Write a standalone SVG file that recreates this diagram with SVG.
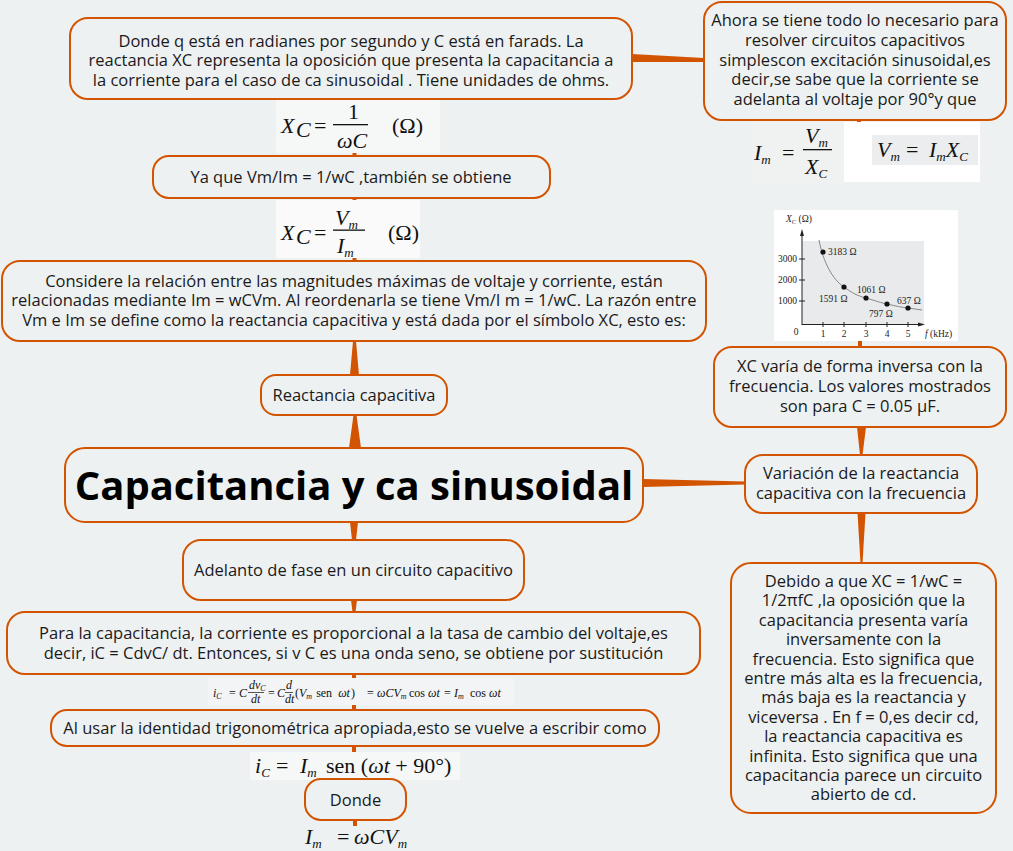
<svg xmlns="http://www.w3.org/2000/svg" width="1013" height="851" viewBox="0 0 1013 851">
<defs>
<style>
.node{fill:#eef1f2;stroke:#d35400;stroke-width:2}
.t{font-family:"Open Sans","Liberation Sans",sans-serif;font-size:16.5px;fill:#1a1a1a;text-anchor:middle}
.title{font-family:"Open Sans","Liberation Sans",sans-serif;font-size:40px;font-weight:bold;fill:#000;text-anchor:middle}
.conn{fill:#d35400}
.m{font-family:"Liberation Serif","Times New Roman",serif;font-size:22px;fill:#111}
.mi{font-style:italic}
.ms{font-family:"Liberation Serif",serif;font-size:12px;fill:#111}
.g{font-family:"Liberation Serif",serif;font-size:9.5px;fill:#222}
</style>
</defs>
<rect width="1013" height="851" fill="#eef1f2"/>

<g id="connectors">
<polygon class="conn" points="349,448 361,448 356.5,415 353.5,415"/>
<polygon class="conn" points="350,375 359,375 356,341 353,341"/>
<rect class="conn" x="352.5" y="257" width="4" height="5"/>
<rect class="conn" x="352.5" y="197" width="4" height="4"/>
<rect class="conn" x="352.5" y="152" width="4" height="5"/>
<rect class="conn" x="352.5" y="98" width="4" height="3"/>
<polygon class="conn" points="632,54 632,62 704,62 704,58"/>
<rect class="conn" x="857" y="119" width="4" height="4"/>
<polygon class="conn" points="350,522 358,522 356,540 352,540"/>
<polygon class="conn" points="351,600 357,600 355.5,612 352.5,612"/>
<rect class="conn" x="352" y="673" width="4" height="6"/>
<rect class="conn" x="352" y="703" width="4" height="8"/>
<rect class="conn" x="352" y="745" width="4" height="8"/>
<rect class="conn" x="353" y="779" width="4" height="2"/>
<rect class="conn" x="353" y="819" width="4" height="7"/>
<polygon class="conn" points="643,479 745,481.5 745,484.5 643,487"/>
<polygon class="conn" points="857,427 866,427 862.5,455 860,455"/>
<polygon class="conn" points="857.5,513 865.5,513 862.5,563 860.5,563"/>
<rect class="conn" x="858" y="340" width="4" height="8"/>
</g>

<g id="n-donde-q">
<rect class="node" x="70" y="18" width="562" height="81" rx="18"/>
<text class="t" x="351" y="47">Donde q está en radianes por segundo y C está en farads. La</text>
<text class="t" x="351" y="66">reactancia XC representa la oposición que presenta la capacitancia a</text>
<text class="t" x="351" y="86">la corriente para el caso de ca sinusoidal . Tiene unidades de ohms.</text>
</g>

<g id="f-xc1">
<rect x="276" y="100" width="164" height="53" fill="#f6f7f7"/>
<text class="m mi" x="281" y="133">X</text>
<text class="m mi" x="296" y="137" font-size="12">C</text>
<text class="m" x="314" y="133">=</text>
<text class="m" x="348" y="119">1</text>
<rect x="333" y="124" width="35" height="1.3" fill="#111"/>
<text class="m mi" x="337" y="148">ωC</text>
<text class="m" x="392" y="133">(Ω)</text>
</g>

<g id="n-ya-que">
<rect class="node" x="153" y="156" width="397" height="42" rx="16"/>
<text class="t" x="351" y="183">Ya que Vm/Im = 1/wC ,también se obtiene</text>
</g>

<g id="f-xc2">
<rect x="276" y="200" width="144" height="58" fill="#fafafa"/>
<text class="m mi" x="281" y="240">X</text>
<text class="m mi" x="296" y="244" font-size="12">C</text>
<text class="m" x="314" y="240">=</text>
<text class="m mi" x="335" y="225">V<tspan font-size="13" dy="4">m</tspan></text>
<rect x="333" y="229.5" width="32" height="1.3" fill="#111"/>
<text class="m mi" x="337" y="253">I<tspan font-size="13" dy="4">m</tspan></text>
<text class="m" x="388" y="240">(Ω)</text>
</g>

<g id="n-considere">
<rect class="node" x="2" y="261" width="704" height="80" rx="18"/>
<text class="t" x="354" y="287">Considere la relación entre las magnitudes máximas de voltaje y corriente, están</text>
<text class="t" x="354" y="306">relacionadas mediante Im = wCVm. Al reordenarla se tiene Vm/I m = 1/wC. La razón entre</text>
<text class="t" x="354" y="326">Vm e Im se define como la reactancia capacitiva y está dada por el símbolo XC, esto es:</text>
</g>

<g id="n-reactancia">
<rect class="node" x="261" y="375" width="186" height="40" rx="15"/>
<text class="t" x="354" y="401">Reactancia capacitiva</text>
</g>

<g id="n-central">
<rect class="node" x="65" y="448" width="578" height="74" rx="20"/>
<text class="title" x="354" y="500">Capacitancia y ca sinusoidal</text>
</g>

<g id="n-adelanto">
<rect class="node" x="183" y="540" width="341" height="60" rx="18"/>
<text class="t" x="353.5" y="576">Adelanto de fase en un circuito capacitivo</text>
</g>

<g id="n-para">
<rect class="node" x="7" y="612" width="693" height="62" rx="18"/>
<text class="t" x="353.5" y="639">Para la capacitancia, la corriente es proporcional a la tasa de cambio del voltaje,es</text>
<text class="t" x="353.5" y="659">decir, iC = CdvC/ dt. Entonces, si v C es una onda seno, se obtiene por sustitución</text>
</g>

<g id="f-ic1">
<rect x="208" y="678" width="306" height="27" fill="#f3f4f5"/>
<text class="ms mi" x="213" y="697">i<tspan font-size="8" dy="2">C</tspan></text>
<text class="ms" x="229" y="697">=</text>
<text class="ms mi" x="239" y="697">C</text>
<text class="ms mi" x="249" y="689">dv<tspan font-size="8" dy="2">C</tspan></text>
<rect x="248" y="692" width="16" height="0.7" fill="#111"/>
<text class="ms mi" x="251" y="703">dt</text>
<text class="ms" x="268" y="697">=</text>
<text class="ms mi" x="277" y="697">C</text>
<text class="ms mi" x="286" y="689">d</text>
<rect x="285" y="692" width="8" height="0.7" fill="#111"/>
<text class="ms mi" x="285" y="703">dt</text>
<text class="ms" x="295" y="697">(<tspan font-style="italic">V</tspan><tspan font-size="8" dy="2" font-style="italic">m</tspan><tspan dy="-2" dx="4">sen</tspan><tspan font-style="italic" dx="6">ωt</tspan><tspan dx="1">)</tspan></text>
<text class="ms" x="367" y="697">=</text>
<text class="ms mi" x="377" y="697">ωCV<tspan font-size="8" dy="2">m</tspan></text>
<text class="ms" x="409" y="697">cos <tspan font-style="italic">ωt</tspan></text>
<text class="ms" x="444" y="697">=</text>
<text class="ms mi" x="454" y="697">I<tspan font-size="8" dy="2">m</tspan></text>
<text class="ms" x="470" y="697">cos <tspan font-style="italic">ωt</tspan></text>
</g>

<g id="n-al-usar">
<rect class="node" x="51" y="710" width="608" height="36" rx="16"/>
<text class="t" x="355" y="734">Al usar la identidad trigonométrica apropiada,esto se vuelve a escribir como</text>
</g>

<g id="f-ic2">
<rect x="250" y="752" width="210" height="28" fill="#f6f7f7"/>
<text class="m mi" x="255" y="773" font-size="21">i<tspan font-size="13" dy="4">C</tspan></text>
<text class="m" x="276" y="773" font-size="21">=</text>
<text class="m mi" x="300" y="773" font-size="21">I<tspan font-size="13" dy="4">m</tspan></text>
<text class="m" x="326" y="773" font-size="21">sen (<tspan font-style="italic">ωt</tspan> + 90°)</text>
</g>

<g id="n-donde">
<rect class="node" x="305" y="779" width="101" height="41" rx="16"/>
<text class="t" x="355.5" y="806">Donde</text>
</g>

<g id="f-im">
<text class="m mi" x="305" y="844" font-size="21">I<tspan font-size="13" dy="4">m</tspan></text>
<text class="m" x="337" y="844" font-size="21">=</text>
<text class="m mi" x="354" y="844" font-size="21">ωCV<tspan font-size="13" dy="4">m</tspan></text>
</g>

<g id="n-ahora">
<rect class="node" x="704" y="2" width="302" height="118" rx="18"/>
<text class="t" x="855" y="26">Ahora se tiene todo lo necesario para</text>
<text class="t" x="855" y="46">resolver circuitos capacitivos</text>
<text class="t" x="855" y="66">simplescon excitación sinusoidal,es</text>
<text class="t" x="855" y="85">decir,se sabe que la corriente se</text>
<text class="t" x="855" y="105">adelanta al voltaje por 90°y que</text>
</g>

<g id="f-im-vm">
<rect x="752" y="122" width="92" height="60" fill="#f0f2f2"/>
<rect x="844" y="122" width="136" height="60" fill="#ffffff"/>
<rect x="872" y="135" width="106" height="30" fill="#ebedee"/>
<text class="m mi" x="754" y="160">I<tspan font-size="13" dy="4">m</tspan></text>
<text class="m" x="782" y="160">=</text>
<text class="m mi" x="805" y="143">V<tspan font-size="13" dy="4">m</tspan></text>
<rect x="803" y="149" width="29" height="1.3" fill="#111"/>
<text class="m mi" x="805" y="174">X<tspan font-size="13" dy="4">C</tspan></text>
<text class="m mi" x="877" y="157">V<tspan font-size="13" dy="4">m</tspan></text>
<text class="m" x="906" y="157">=</text>
<text class="m mi" x="929" y="157">I<tspan font-size="13" dy="4">m</tspan><tspan dy="-4">X</tspan><tspan font-size="13" dy="4">C</tspan></text>
</g>

<g id="graph">
<rect x="774" y="210" width="184" height="131" fill="#ffffff"/>
<rect x="802" y="241" width="122" height="83" fill="#e9eaeb"/>
<line x1="802" y1="325" x2="802" y2="234" stroke="#222" stroke-width="1"/>
<polygon points="802,229 800,236 804,236" fill="#222"/>
<line x1="802" y1="324.5" x2="920" y2="324.5" stroke="#222" stroke-width="1"/>
<polygon points="925,324.5 918,322.5 918,326.5" fill="#222"/>
<g stroke="#222" stroke-width="1">
<line x1="823" y1="322" x2="823" y2="327"/><line x1="844" y1="322" x2="844" y2="327"/><line x1="866" y1="322" x2="866" y2="327"/><line x1="887" y1="322" x2="887" y2="327"/><line x1="908" y1="322" x2="908" y2="327"/>
<line x1="799" y1="259" x2="805" y2="259"/><line x1="799" y1="280" x2="805" y2="280"/><line x1="799" y1="301" x2="805" y2="301"/>
</g>
<path d="M819,240 C823,262 833,280 844,287 C852,293 858,296 866,298 C876,301 882,303 887,304 C896,306 902,307.5 908,308 L922,310" fill="none" stroke="#888" stroke-width="1"/>
<g fill="#111">
<circle cx="823" cy="252" r="2.6"/><circle cx="844" cy="287" r="2.6"/><circle cx="866" cy="298" r="2.6"/><circle cx="887" cy="304" r="2.6"/><circle cx="908" cy="308" r="2.6"/>
</g>
<text class="g" x="786" y="222"><tspan font-style="italic">X</tspan><tspan font-size="6.5" dy="2" font-style="italic">C</tspan><tspan dy="-2"> (Ω)</tspan></text>
<text class="g" x="797" y="262" text-anchor="end">3000</text>
<text class="g" x="797" y="283" text-anchor="end">2000</text>
<text class="g" x="797" y="304" text-anchor="end">1000</text>
<text class="g" x="796" y="335" text-anchor="middle">0</text>
<text class="g" x="823" y="337" text-anchor="middle">1</text>
<text class="g" x="844" y="337" text-anchor="middle">2</text>
<text class="g" x="866" y="337" text-anchor="middle">3</text>
<text class="g" x="887" y="337" text-anchor="middle">4</text>
<text class="g" x="908" y="337" text-anchor="middle">5</text>
<text class="g" x="925" y="337"><tspan font-style="italic">f</tspan> (kHz)</text>
<text class="g" x="828" y="255">3183 Ω</text>
<text class="g" x="819" y="302">1591 Ω</text>
<text class="g" x="857" y="293">1061 Ω</text>
<text class="g" x="869" y="317">797 Ω</text>
<text class="g" x="897" y="304">637 Ω</text>
</g>

<g id="n-xc-varia">
<rect class="node" x="714" y="347" width="292" height="80" rx="18"/>
<text class="t" x="860" y="372">XC varía de forma inversa con la</text>
<text class="t" x="860" y="392">frecuencia. Los valores mostrados</text>
<text class="t" x="860" y="412">son para C = 0.05 µF.</text>
</g>

<g id="n-variacion">
<rect class="node" x="745" y="455" width="232" height="58" rx="18"/>
<text class="t" x="861" y="479">Variación de la reactancia</text>
<text class="t" x="861" y="499">capacitiva con la frecuencia</text>
</g>

<g id="n-debido">
<rect class="node" x="731" y="563" width="265" height="250" rx="20"/>
<text class="t" x="863.5" y="587">Debido a que XC = 1/wC =</text>
<text class="t" x="863.5" y="606.4">1/2πfC ,la oposición que la</text>
<text class="t" x="863.5" y="625.8">capacitancia presenta varía</text>
<text class="t" x="863.5" y="645.2">inversamente con la</text>
<text class="t" x="863.5" y="664.6">frecuencia. Esto significa que</text>
<text class="t" x="863.5" y="684">entre más alta es la frecuencia,</text>
<text class="t" x="863.5" y="703.4">más baja es la reactancia y</text>
<text class="t" x="863.5" y="722.8">viceversa . En f = 0,es decir cd,</text>
<text class="t" x="863.5" y="742.2">la reactancia capacitiva es</text>
<text class="t" x="863.5" y="761.6">infinita. Esto significa que una</text>
<text class="t" x="863.5" y="781">capacitancia parece un circuito</text>
<text class="t" x="863.5" y="800.4">abierto de cd.</text>
</g>
</svg>
